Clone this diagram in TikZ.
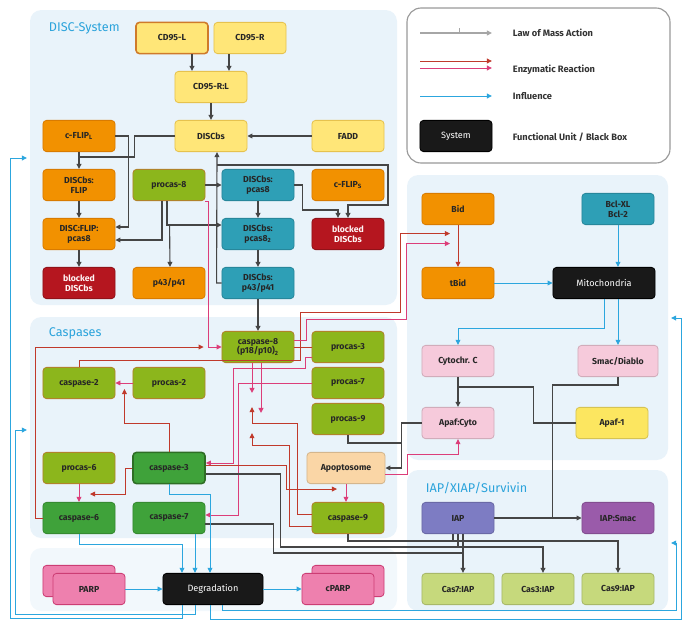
\documentclass[tikz,border=0pt]{standalone}
\usepackage{fontspec}
\setmainfont{Fira Sans}
\usetikzlibrary{arrows.meta, calc}

\definecolor{panelbg}{HTML}{E9F3FA}
\definecolor{titleblue}{HTML}{2BA3DB}
\definecolor{yelfill}{HTML}{FFE678}
\definecolor{yeldraw}{HTML}{E6C24E}
\definecolor{cdborder}{HTML}{CF7A2A}
\definecolor{orgfill}{HTML}{F29100}
\definecolor{orgdraw}{HTML}{D97B00}
\definecolor{redfill}{HTML}{B5161F}
\definecolor{grnfill}{HTML}{8CB61C}
\definecolor{grndraw}{HTML}{B0832A}
\definecolor{dgrnfill}{HTML}{3FA23A}
\definecolor{dgrndraw}{HTML}{2E6E25}
\definecolor{teafill}{HTML}{2E9FB6}
\definecolor{pnkfill}{HTML}{F6CADB}
\definecolor{apaffill}{HTML}{FCE660}
\definecolor{peachfill}{HTML}{FAD6A6}
\definecolor{iapfill}{HTML}{7D7CC3}
\definecolor{iapsfill}{HTML}{9A5BAA}
\definecolor{lgrnfill}{HTML}{C6D97C}
\definecolor{parpfill}{HTML}{EE80AE}
\definecolor{parpdraw}{HTML}{CC3D74}
\definecolor{massgray}{HTML}{454545}
\definecolor{enzred}{HTML}{C0392B}
\definecolor{enzpink}{HTML}{DC3D79}
\definecolor{inflblue}{HTML}{2CA6DE}

\begin{document}
\begin{tikzpicture}[
    x=0.025cm, y=-0.025cm,
    font=\fontsize{6.5}{7.5}\selectfont,
    box/.style={draw, rounded corners=2.5pt, align=center, minimum width=1.8cm, minimum height=0.78cm, inner sep=1pt, line width=0.6pt, font=\bfseries\fontsize{6.2}{7}\selectfont, text=black!85},
    yel/.style={box, fill=yelfill, draw=yeldraw},
    org/.style={box, fill=orgfill, draw=orgdraw},
    blkd/.style={box, fill=redfill, draw=redfill!80!black, text=white!85!pink},
    grn/.style={box, fill=grnfill, draw=grndraw},
    dgrn/.style={box, fill=dgrnfill, draw=dgrnfill!85!black},
    tea/.style={box, fill=teafill, draw=teafill!85!black},
    pnk/.style={box, fill=pnkfill, draw=pnkfill!85!black},
    blk/.style={box, fill=black!90, draw=black, text=white, font=\fontsize{6.5}{7.5}\selectfont},
    parpc/.style={box, fill=parpfill, draw=parpdraw},
    lgrn/.style={box, fill=lgrnfill, draw=lgrnfill!85!black},
    title/.style={anchor=west, text=titleblue, font=\fontsize{9}{10}\selectfont},
    legtext/.style={anchor=west, text=black!80, font=\bfseries\fontsize{6.6}{7.5}\selectfont},
    tip/.style={-{Triangle[length=3.6pt,width=3.4pt]}},
    massline/.style={draw=massgray, line width=0.8pt},
    mass/.style={massline, tip},
    enzline/.style={draw=enzred, line width=0.7pt},
    enzr/.style={enzline, tip},
    enzp/.style={draw=enzpink, line width=0.7pt, tip},
    infl/.style={draw=inflblue, line width=0.7pt, tip}
]
    \useasboundingbox (0,0) rectangle (684,619);

    % Panels
    \fill[panelbg, rounded corners=8pt] (30,10) rectangle (397,305);
    \fill[panelbg, rounded corners=8pt] (30,317) rectangle (397,538);
    \fill[panelbg!60, rounded corners=8pt] (30,548) rectangle (397,611);
    \fill[panelbg, rounded corners=8pt] (407,175) rectangle (668,460);
    \fill[panelbg, rounded corners=8pt] (407,470) rectangle (668,611);
    \draw[black!40, fill=white, rounded corners=10pt, line width=0.8pt] (407,8) rectangle (670,163);

    \node[title] (disctitle) at (44,28) {DISC-System};
    \node[title] (castitle) at (44,333) {Caspases};
    \node[title] (iaptitle) at (421,488) {IAP/XIAP/Survivin};

    % Legend
    \coordinate (lma) at (420,33);
    \coordinate (lmb) at (492,33);
    \coordinate (lra) at (420,61);
    \coordinate (lrb) at (492,61);
    \coordinate (lpa) at (420,68);
    \coordinate (lpb) at (492,68);
    \coordinate (lia) at (420,96);
    \coordinate (lib) at (492,96);
    \draw[mass, draw=black!35] (lma) -- (lmb);
    \draw[massline, draw=black!35, line width=0.5pt] ($(lma)!0.55!(lmb)$) -- ++(0,-5);
    \draw[enzr] (lra) -- (lrb);
    \draw[enzp] (lpa) -- (lpb);
    \draw[infl] (lia) -- (lib);
    \node[blk] (legsys) at (456,136) {System};
    \node[legtext] (leg1) at (508,33) {Law of Mass Action};
    \node[legtext] (leg2) at (508,70) {Enzymatic Reaction};
    \node[legtext] (leg3) at (508,96) {Influence};
    \node[legtext] (leg4) at (508,137) {Functional Unit / Black Box};

    % DISC-System
    \node[yel, draw=cdborder, line width=1.1pt] (cd95l) at (172,38) {CD95-L};
    \node[yel] (cd95r) at (250,38) {CD95-R};
    \node[yel] (cd95rl) at (211,87) {CD95-R:L};
    \node[yel] (discbs) at (211,136) {DISCbs};
    \node[yel] (fadd) at (348,136) {FADD};
    \node[org] (cflipl) at (79,136) {c-FLIP\textsubscript{L}};
    \node[org] (discflip) at (79,185) {DISCbs:\\FLIP};
    \node[org] (dfp8) at (79,234) {DISC:FLIP:\\pcas8};
    \node[blkd] (blocked1) at (79,283) {blocked\\DISCbs};
    \node[grn] (procas8) at (169,185) {procas-8};
    \node[org] (p43) at (169,283) {p43/p41};
    \node[tea] (dpcas8) at (258,185) {DISCbs:\\pcas8};
    \node[tea] (dpcas8b) at (258,234) {DISCbs:\\pcas8\textsubscript{2}};
    \node[tea] (dp43) at (258,283) {DISCbs:\\p43/p41};
    \node[org] (cflips) at (348,185) {c-FLIP\textsubscript{S}};
    \node[blkd] (blocked2) at (348,234) {blocked\\DISCbs};

    % Mitochondria
    \node[org] (bid) at (458,209) {Bid};
    \node[tea] (bcl) at (618,209) {Bcl-XL\\Bcl-2};
    \node[org] (tbid) at (458,283) {tBid};
    \node[blk, minimum width=2.55cm] (mito) at (604,283) {Mitochondria};
    \node[pnk] (cyto) at (458,361) {Cytochr. C};
    \node[pnk, minimum width=2cm] (smac) at (618,361) {Smac/Diablo};
    \node[pnk] (apcy) at (458,423) {Apaf:Cyto};
    \node[box, fill=apaffill, draw=apaffill!85!black] (apaf) at (612,423) {Apaf-1};

    % IAP
    \node[box, fill=iapfill, draw=iapfill!85!black] (iap) at (458,518) {IAP};
    \node[box, fill=iapsfill, draw=iapsfill!85!black] (iapsmac) at (618,518) {IAP:Smac};
    \node[lgrn] (c7iap) at (458,589) {Cas7:IAP};
    \node[lgrn] (c3iap) at (538,589) {Cas3:IAP};
    \node[lgrn] (c9iap) at (618,589) {Cas9:IAP};

    % Caspases
    \node[grn] (cas8) at (258,347) {caspase-8\\(p18/p10)\textsubscript{2}};
    \node[grn] (procas3) at (348,347) {procas-3};
    \node[grn] (procas7) at (348,383) {procas-7};
    \node[grn] (procas9) at (348,419) {procas-9};
    \node[grn] (cas2) at (79,383) {caspase-2};
    \node[grn] (procas2) at (169,383) {procas-2};
    \node[grn] (procas6) at (79,468) {procas-6};
    \node[dgrn, draw=dgrndraw, line width=1.1pt] (cas3) at (169,468) {caspase-3};
    \node[dgrn] (cas6) at (79,518) {caspase-6};
    \node[dgrn] (cas7) at (169,518) {caspase-7};
    \node[box, fill=peachfill, draw=peachfill!85!black, minimum width=1.95cm] (apopt) at (346,468) {Apoptosome};
    \node[grn] (cas9) at (348,518) {caspase-9};

    % Degradation
    \node[parpc] (parpback) at (79,581) {};
    \node[parpc] (parp) at (89,589) {PARP};
    \node[parpc] (cparpback) at (348,581) {};
    \node[parpc] (cparp) at (338,589) {cPARP};
    \node[blk, minimum width=2.5cm] (degr) at (213,589) {Degradation};

    % Feedback entry points
    \coordinate (discin) at (27,158);
    \coordinate (casin) at (27,430);
    \coordinate (mitoin) at (671,318);
    \coordinate (iapin) at (671,543);

    % DISC connectors
    \draw[mass] ($(cd95l.south)+(20,0)$) -- ($(cd95rl.north)+(-19,0)$);
    \draw[mass] ($(cd95r.south)+(-21,0)$) -- ($(cd95rl.north)+(18,0)$);
    \draw[mass] (cd95rl.south) -- (discbs.north);
    \draw[mass] (fadd.west) -- (discbs.east);
    \draw[mass] (cflipl.south) -- (discflip.north);
    \draw[massline] (discbs.west) -- ++(-40,0) |- ($(cflipl.south)+(0,5)$);
    \draw[mass] (cflipl.east) -- ++(13,0) |- ($(dfp8.east)+(0,-7)$);
    \draw[mass] (discflip.south) -- (dfp8.north);
    \draw[mass] (dfp8.south) -- (blocked1.north);
    \draw[mass] ($(procas8.south)+(-7,0)$) |- ($(dfp8.east)+(0,6)$);
    \draw[mass] ($(procas8.south)+(-2,0)$) |- ($(dpcas8b.west)+(0,-9)$);
    \draw[mass] ($(dpcas8b.west)+(-52,-9)$) -- ($(p43.north)+(1,0)$);
    \draw[mass] (procas8.east) -- (dpcas8.west);
    \draw[mass] (dpcas8.south) -- (dpcas8b.north);
    \draw[mass] (dpcas8b.south) -- (dp43.north);
    \draw[mass] (dp43.west) -- ++(-5,0) -- ($(discbs.south)+(6,0)$);
    \draw[mass] ($(discbs.south)+(6,13)$) -- ++(171,0) -- ++(0,40) -| (blocked2.north);
    \draw[mass] (dpcas8.east) -- ++(8,0) |- ($(blocked2.north)+(-10,-8)$) -- ($(blocked2.north)+(-10,0)$);
    \draw[mass] (dp43.south) -- (cas8.north);

    % Mitochondria connectors
    \draw[enzr] (bid.south) -- (tbid.north);
    \draw[infl] (bcl.south) -- (bcl.south |- mito.north);
    \draw[infl] (tbid.east) -- (mito.west);
    \draw[infl] (mito.south) -- ++(0,29) -| (cyto.north);
    \draw[infl] (mito.south -| smac.north) -- (smac.north);
    \draw[mass] (cyto.south) -- (apcy.north);
    \draw[massline] (apaf.west) -- ++(-42,0) |- ($(cyto.south)+(0,10)$);
    \draw[massline] (smac.south) -- ++(0,8) -| ($(iap.east)+(58,0)$);
    \draw[mass] (iap.east) -- (iapsmac.west);
    \draw[mass] (apcy.west) -- ++(-20,0) |- (apopt.east);
    \draw[massline] (procas9.south) |- ($(apcy.west)+(-20,20)$);
    \draw[enzp] ($(apopt.east)+(0,6)$) -- ++(22,0) |- ($(apcy.south)+(0,15)$) -- (apcy.south);

    % Caspase connectors
    \draw[enzr] (cas2.north) -- ++(0,-6) -- ++(221,0) -- ++(0,-48) -- ++(100,0) |- ($(bid.south)+(-8,8.5)$);
    \draw[enzp] ($(cas8.east)+(0,-7)$) -- ++(12,0) -- ++(0,-21) -- ++(100,0) |- ($(bid.south)+(-8,18.5)$);
    \draw[enzline] (cas8.east) -- (procas3.west);
    \draw[enzp] ($(procas3.west)+(0,10)$) -- ++(-6,0) -- ++(0,11) -| ($(cas3.east)+(28,-5)$) -- ($(cas3.east)+(0,-5)$);
    \draw[enzp] (procas7.west) -| ($(cas7.east)+(33,-3)$) -- ($(cas7.east)+(0,-3)$);
    \draw[enzp] ($(cas8.south)+(-6,0)$) -- ++(0,30);
    \draw[enzp] ($(cas8.south)+(3,0)$) -- ++(0,50);
    \draw[enzr] ($(cas9.west)+(0,-4)$) -- ++(-14,0) |- ($(cas8.south)+(-6,60)$) -- ($(cas8.south)+(-6,44)$);
    \draw[enzr] ($(cas9.west)+(0,8)$) -- ++(-22,0) |- ($(cas8.south)+(-6,82)$) -- ($(cas8.south)+(-6,70)$);
    \draw[enzp] (procas2.west) -- (cas2.east);
    \draw[enzr] (cas3.north) -- ++(0,-28) -| ($(cas2.east)+(9,6)$);
    \draw[enzp] (procas6.south) -- (cas6.north);
    \draw[enzr] (cas3.west) -- ++(-7,0) |- ($(procas6.south)+(11,10)$);
    \draw[enzr] (cas6.west) -- ++(-7,0) |- ($(cas8.west)+(-18,0)$);
    \draw[enzp] (procas8.south east) -- ++(3,0) |- (cas8.west);
    \draw[enzr] ($(cas3.east)+(0,-3)$) -- ++(81,0) |- ($(apopt.south)+(-9,5)$);
    \draw[enzp] (apopt.south) -- (apopt.south |- cas9.north);

    % Caspase : IAP
    \draw[mass] ($(cas3.east)+(0,6)$) -- ++(75,0) |- ($(c3iap.north)+(5,-26)$) -- ($(c3iap.north)+(5,0)$);
    \draw[mass] ($(cas7.east)+(0,6)$) -- ++(68,0) |- ($(c7iap.north)+(5,-20)$) -- ($(c7iap.north)+(5,0)$);
    \draw[mass] (cas9.south) |- ($(c9iap.north)+(0,-32)$) -- (c9iap.north);
    \draw[massline] ($(iap.south)+(-5,0)$) -- ++(0,8);
    \draw[massline] (iap.south) -- ++(0,14);
    \draw[massline] ($(iap.south)+(5,0)$) -- ++(0,20);

    % Degradation
    \draw[infl] (cas6.south) -- ++(0,10) -| ($(degr.north)+(-31,0)$);
    \draw[infl] ($(cas7.south)+(26,0)$) -- ($(degr.north)+(-18,0)$);
    \draw[infl] (cas3.south) -- ++(0,10) -| ($(degr.north)+(-3,0)$);
    \draw[infl] (parp.east) -- (degr.west);
    \draw[infl] (degr.east) -- (cparp.west);

    % Feedback
    \draw[infl] ($(degr.south)+(-31,0)$) -- ++(0,13) -- ++(-172,0) |- (discin);
    \draw[infl] ($(degr.south)+(-18,0)$) -- ++(0,9) -- ++(-180,0) |- (casin);
    \draw[infl] ($(degr.south)+(-3,0)$) -- ++(0,14) -- ++(471,0) |- (mitoin);
    \draw[infl] ($(degr.south)+(9,0)$) -- ++(0,5) -- ++(454,0) |- (iapin);

\end{tikzpicture}
\end{document}
